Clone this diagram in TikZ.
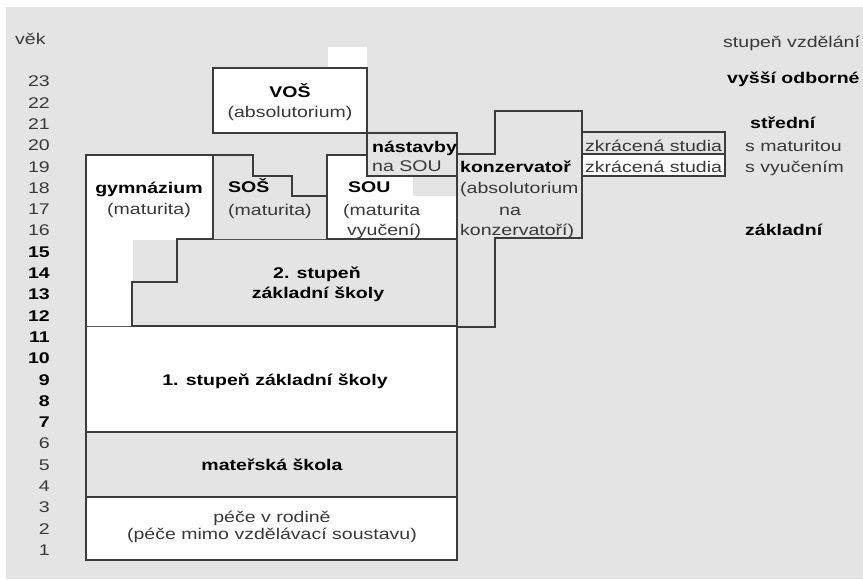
\documentclass[tikz,border=0pt]{standalone}
\usepackage{fontspec}
\setmainfont{Liberation Sans}[FakeStretch=1.26]
\definecolor{bg}{HTML}{E4E4E4}
\definecolor{ln}{HTML}{3C3C3C}
\definecolor{txt}{HTML}{383838}
\begin{document}
\begin{tikzpicture}[x=1pt,y=-1pt,
  box/.style={draw=ln, line width=1.3pt, line join=miter},
  wbox/.style={box, fill=white},
  gbox/.style={box, fill=bg},
  lab/.style={inner sep=0, text=txt, font=\fontsize{15.5}{21}\selectfont},
  blab/.style={inner sep=0, text=black, font=\fontsize{15.5}{21}\selectfont\bfseries}]
\useasboundingbox (0,0) rectangle (863,579);
\fill[bg] (6,7) rectangle (863,579);
% white patch above VOS
\fill[white] (328,47) rectangle (367,68);
% bottom boxes
\draw[wbox] (86,497) rectangle (457,560);
\draw[gbox] (86,432) rectangle (457,497);
\draw[wbox] (86,326) rectangle (457,432);
% gymnazium
\draw[wbox] (86,326) -- (86,155) -- (213,155) -- (213,239) -- (177,239) -- (177,282) -- (132,282) -- (132,326);
% 2. stupen
\draw[gbox] (132,326) -- (132,282) -- (177,282) -- (177,239) -- (457,239) -- (457,326) -- cycle;
\fill[bg] (132.7,239.7) rectangle (176.3,281.3);
% SOS
\draw[gbox] (213,239) -- (213,155) -- (253,155) -- (253,176) -- (292,176) -- (292,196) -- (327,196) -- (327,239);
% SOU
\draw[wbox] (327,155) rectangle (457,239);
\fill[bg] (413,176) rectangle (456.3,196);
% nastavby
\draw[gbox] (367,133) rectangle (457,176);
% VOS
\draw[wbox] (213,68) rectangle (367,133);
% konzervator
\draw[gbox] (457,154) -- (495,154) -- (495,111) -- (582,111) -- (582,238) -- (495,238) -- (495,327) -- (457,327) -- cycle;
% zkracena studia
\draw[gbox] (582,132) rectangle (725,154);
\draw[wbox] (582,154) rectangle (725,176);

% header texts
\node[lab, anchor=base west] (vek) at (15,44.5) {věk};
\node[lab, anchor=base west] (stupen) at (723,47.5) {stupeň vzdělání};
\node[blab, anchor=base west] (vyssi) at (727,83) {vyšší odborné};
\node[blab, anchor=base west] (stredni) at (750,128.5) {střední};
\node[lab, anchor=base west] (smat) at (745,151.5) {s maturitou};
\node[lab, anchor=base west] (svyuc) at (745,172.5) {s vyučením};
\node[blab, anchor=base west] (zakl) at (745,235.5) {základní};

% ages
\foreach \n in {1,...,23}{
  \pgfmathsetmacro{\yy}{550-(\n-1)*21.3+5.4}
  \ifnum\n<7
    \node[lab, anchor=base east] (age\n) at (50,\yy) {\n};
  \else\ifnum\n<16
    \node[blab, anchor=base east] (age\n) at (50,\yy) {\n};
  \else
    \node[lab, anchor=base east] (age\n) at (50,\yy) {\n};
  \fi\fi
}

% box texts
\node[blab, anchor=base] (vos) at (290,97.5) {VOŠ};
\node[lab, anchor=base] (vosa) at (290,117.5) {(absolutorium)};
\node[blab, anchor=base] (gym) at (149,193.5) {gymnázium};
\node[lab, anchor=base] (gyma) at (149,214.5) {(maturita)};
\node[blab, anchor=base west] (sos) at (228,192.5) {SOŠ};
\node[lab, anchor=base west] (sosa) at (228,215.5) {(maturita)};
\node[blab, anchor=base west] (sou) at (348,192.5) {SOU};
\node[lab, anchor=base west] (soua) at (343,215.5) {(maturita};
\node[lab, anchor=base west] (soub) at (347,235.5) {vyučení)};
\node[blab, anchor=base west] (nast) at (372,152.5) {nástavby};
\node[lab, anchor=base west] (nasta) at (372,171.5) {na SOU};
\node[blab, anchor=base west] (konz) at (460,172.5) {konzervatoř};
\node[lab, anchor=base west] (konza) at (460,193.5) {(absolutorium};
\node[lab, anchor=base] (konzb) at (510,215.5) {na};
\node[lab, anchor=base west] (konzc) at (460,235.5) {konzervatoří)};
\node[lab, anchor=base west] (zk1) at (585,151.5) {zkrácená studia};
\node[lab, anchor=base west] (zk2) at (585,172.5) {zkrácená studia};
\node[blab, anchor=base] (st2) at (317,278.5) {2. stupeň};
\node[blab, anchor=base] (st2b) at (318,298.5) {základní školy};
\node[blab, anchor=base] (st1) at (275,385.5) {1. stupeň základní školy};
\node[blab, anchor=base] (ms) at (272,470.5) {mateřská škola};
\node[lab, anchor=base] (pece) at (272,522) {péče v rodině};
\node[lab, anchor=base] (pecea) at (272,539) {(péče mimo vzdělávací soustavu)};
\end{tikzpicture}
\end{document}
